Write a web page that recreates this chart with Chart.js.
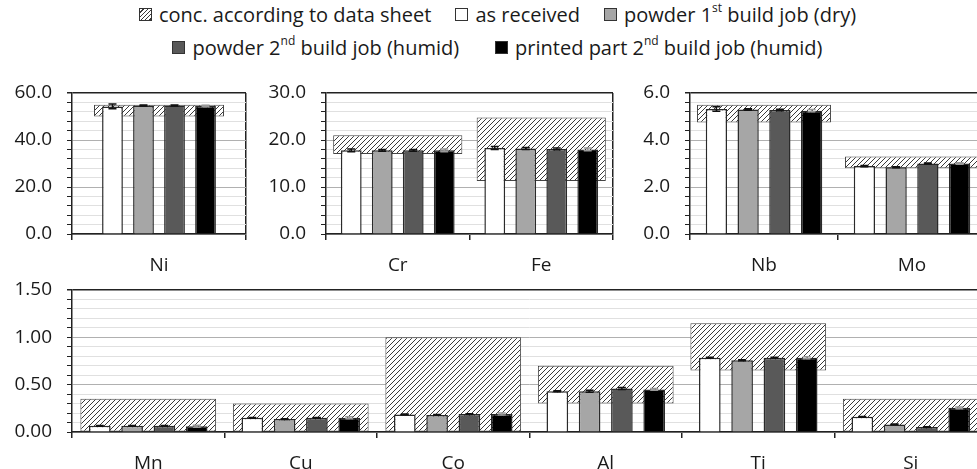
<!DOCTYPE html>
<html>
<head>
<meta charset="utf-8">
<script src="https://cdn.jsdelivr.net/npm/chart.js@4.4.0/dist/chart.umd.min.js"></script>
<style>
html,body{margin:0;padding:0;background:#fff}
body{width:977px;height:469px;overflow:hidden;position:relative;font-family:'Open Sans',sans-serif;color:#1a1a1a}
canvas{position:absolute}
#legend{position:absolute;left:0;top:-2px;width:995px;font-size:20px}
.row{display:flex;justify-content:center;align-items:center;height:33px;white-space:nowrap}
.item{display:flex;align-items:center}
.sw{width:13px;height:13px;border:1px solid #333;margin-right:7px;box-sizing:border-box}
sup{font-size:12px;line-height:0;position:relative;top:-2px}
</style>
</head>
<body>
<div id="legend"></div>
<script>
/* element concentrations (wt.-%) */
var elements=['Ni','Cr','Fe','Nb','Mo','Mn','Cu','Co','Al','Ti','Si'];
var specMin=[50,17,11.3,4.75,2.8,0,0,0,0.3,0.65,0];
var specMax=[55,21,24.8,5.5,3.3,0.35,0.3,1.0,0.7,1.15,0.35];
var asReceived=[54.3,17.8,18.3,5.32,2.89,0.065,0.15,0.185,0.43,0.785,0.16];
var powderDry=[54.7,17.8,18.2,5.30,2.84,0.065,0.137,0.18,0.43,0.757,0.08];
var powderHumid=[54.7,17.8,18.1,5.28,3.00,0.065,0.15,0.19,0.46,0.785,0.052];
var printedPart=[54.5,17.8,18.0,5.25,3.00,0.06,0.15,0.19,0.45,0.785,0.255];
var errAsReceived=[1.0,0.3,0.3,0.1,0.03,0.004,0.004,0.004,0.005,0.005,0.004];
var errPowderDry=[0.2,0.2,0.2,0.03,0.02,0.004,0.004,0.004,0.01,0.005,0.004];
var errPowderHumid=[0.2,0.2,0.2,0.03,0.02,0.004,0.004,0.004,0.01,0.005,0.004];
var errPrintedPart=[0.3,0.3,0.3,0.05,0.03,0.01,0.01,0.01,0.01,0.01,0.01];

var seriesLabels=['conc. according to data sheet','as received','powder 1<sup>st</sup> build job (dry)','powder 2<sup>nd</sup> build job (humid)','printed part 2<sup>nd</sup> build job (humid)'];
var legendRows=[[0,1,2],[3,4]];

var panelElements=[['Ni'],['Cr','Fe'],['Nb','Mo'],['Mn','Cu','Co','Al','Ti','Si']];
var panelTicks=[[0,20,40,60],[0,10,20,30],[0,2,4,6],[0,0.5,1,1.5]];
var panelDecimals=[1,1,1,2];
var MINOR_DIV=5;

// styling / placement (not data)
var fills=['hatch','#ffffff','#a6a6a6','#595959','#000000'];
var errColors=['#111','#111','#111','#999'];
var legendGaps=[12,18];
var layouts=[
  {left:0,top:80,w:250,h:200,yw:72,pt:13,xh:46,barCat:0.713,hatchCat:0.747},
  {left:250,top:80,w:367,h:200,yw:76,pt:13,xh:46,barCat:0.864,hatchCat:0.9},
  {left:618,top:80,w:372,h:200,yw:72,pt:13,xh:46,barCat:0.858,hatchCat:0.905},
  {left:0,top:275,w:991,h:205,yw:72,pt:15,xh:48,barCat:0.847,hatchCat:0.89}
];
var FONT='Open Sans';

function makeHatch(){
  var c=document.createElement('canvas');c.width=5;c.height=5;
  var g=c.getContext('2d');
  g.fillStyle='#fff';g.fillRect(0,0,5,5);
  g.strokeStyle='#3a3a3a';g.lineWidth=1;
  g.beginPath();
  g.moveTo(0,5);g.lineTo(5,0);
  g.moveTo(-1,1);g.lineTo(1,-1);
  g.moveTo(4,6);g.lineTo(6,4);
  g.stroke();
  return g.createPattern(c,'repeat');
}
var hatch=makeHatch();

/* legend */
var leg=document.getElementById('legend');
legendRows.forEach(function(r,ri){
  var row=document.createElement('div');row.className='row';
  r.forEach(function(k){
    var it=document.createElement('div');it.className='item';
    it.style.margin='0 '+legendGaps[ri]+'px';
    var sw=document.createElement('span');sw.className='sw';
    if(fills[k]==='hatch')sw.style.background='repeating-linear-gradient(135deg,#fff 0 2px,#3a3a3a 2px 3px)';
    else sw.style.background=fills[k];
    var tx=document.createElement('span');tx.innerHTML=seriesLabels[k];
    it.appendChild(sw);it.appendChild(tx);row.appendChild(it);
  });
  leg.appendChild(row);
});

var errorBars={
  id:'errorBars',
  afterDatasetsDraw:function(chart){
    var ctx=chart.ctx,ys=chart.scales.y;
    chart.data.datasets.forEach(function(ds,di){
      if(!ds.err)return;
      var meta=chart.getDatasetMeta(di);
      meta.data.forEach(function(bar,i){
        var v=ds.data[i],e=ds.err[i];
        var y1=ys.getPixelForValue(v+e),y2=ys.getPixelForValue(v-e);
        ctx.save();
        ctx.strokeStyle=ds.errColor;ctx.lineWidth=1.5;
        ctx.beginPath();
        ctx.moveTo(bar.x,y1);ctx.lineTo(bar.x,y2);
        ctx.moveTo(bar.x-4,y1);ctx.lineTo(bar.x+4,y1);
        ctx.moveTo(bar.x-4,y2);ctx.lineTo(bar.x+4,y2);
        ctx.stroke();
        ctx.restore();
      });
    });
  }
};

function buildPanel(p){
  var L=layouts[p],names=panelElements[p],ticks=panelTicks[p],dec=panelDecimals[p];
  var idx=names.map(function(n){return elements.indexOf(n)});
  function pick(arr){return idx.map(function(i){return arr[i]})}
  var nTicks=(ticks.length-1)*MINOR_DIV+1;

  var cv=document.createElement('canvas');
  cv.width=L.w;cv.height=L.h;
  cv.style.left=L.left+'px';cv.style.top=L.top+'px';
  document.body.appendChild(cv);

  var series=[asReceived,powderDry,powderHumid,printedPart];
  var errs=[errAsReceived,errPowderDry,errPowderHumid,errPrintedPart];
  var datasets=[{
    label:'conc. according to data sheet',
    data:idx.map(function(i){return [specMin[i],specMax[i]]}),
    backgroundColor:hatch,borderColor:'#444',borderWidth:1,borderSkipped:false,
    grouped:false,order:10,barPercentage:1,categoryPercentage:L.hatchCat
  }];
  series.forEach(function(s,k){
    datasets.push({
      label:seriesLabels[k+1],
      data:pick(s),err:pick(errs[k]),errColor:errColors[k],
      backgroundColor:fills[k+1],borderColor:'#2a2a2a',borderWidth:1.5,
      barPercentage:0.67,categoryPercentage:L.barCat
    });
  });

  new Chart(cv,{
    type:'bar',
    data:{labels:names,datasets:datasets},
    options:{
      responsive:false,animation:false,events:[],
      layout:{padding:{top:L.pt,right:4,left:0,bottom:0}},
      plugins:{legend:{display:false},tooltip:{enabled:false}},
      scales:{
        x:{
          ticks:{padding:14,color:'#1a1a1a',font:{family:FONT,size:19}},
          grid:{offset:true,color:function(c){return c.tick?'rgba(0,0,0,0)':'#222'},lineWidth:1.5,tickLength:6,tickColor:'#222'},
          border:{color:'#222',width:1.5},
          afterFit:function(s){s.height=L.xh}
        },
        y:{
          min:ticks[0],max:ticks[ticks.length-1],
          afterBuildTicks:function(s){
            var out=[];
            for(var k=0;k<ticks.length-1;k++){
              var st=(ticks[k+1]-ticks[k])/MINOR_DIV;
              for(var m=0;m<MINOR_DIV;m++)out.push({value:ticks[k]+m*st,major:m===0});
            }
            out.push({value:ticks[ticks.length-1],major:true});
            s.ticks=out;
          },
          afterFit:function(s){s.width=L.yw;s.paddingTop=0;s.paddingBottom=0},
          ticks:{autoSkip:false,padding:15,color:'#1a1a1a',font:{family:FONT,size:19},
            callback:function(v,i,t){return t[i].major?Number(v).toFixed(dec):''}},
          grid:{
            color:function(c){
              if(!c.tick)return '#e0e0e0';
              if(c.index===nTicks-1)return '#222';
              return c.tick.major?'#b0b0b0':'#e0e0e0';
            },
            lineWidth:function(c){return c.tick&&c.index===nTicks-1?1.5:1},
            tickLength:5,tickColor:'#222'
          },
          border:{color:'#222',width:1.5}
        }
      }
    },
    plugins:[errorBars]
  });
}

for(var p=0;p<panelElements.length;p++)buildPanel(p);
</script>
</body>
</html>
